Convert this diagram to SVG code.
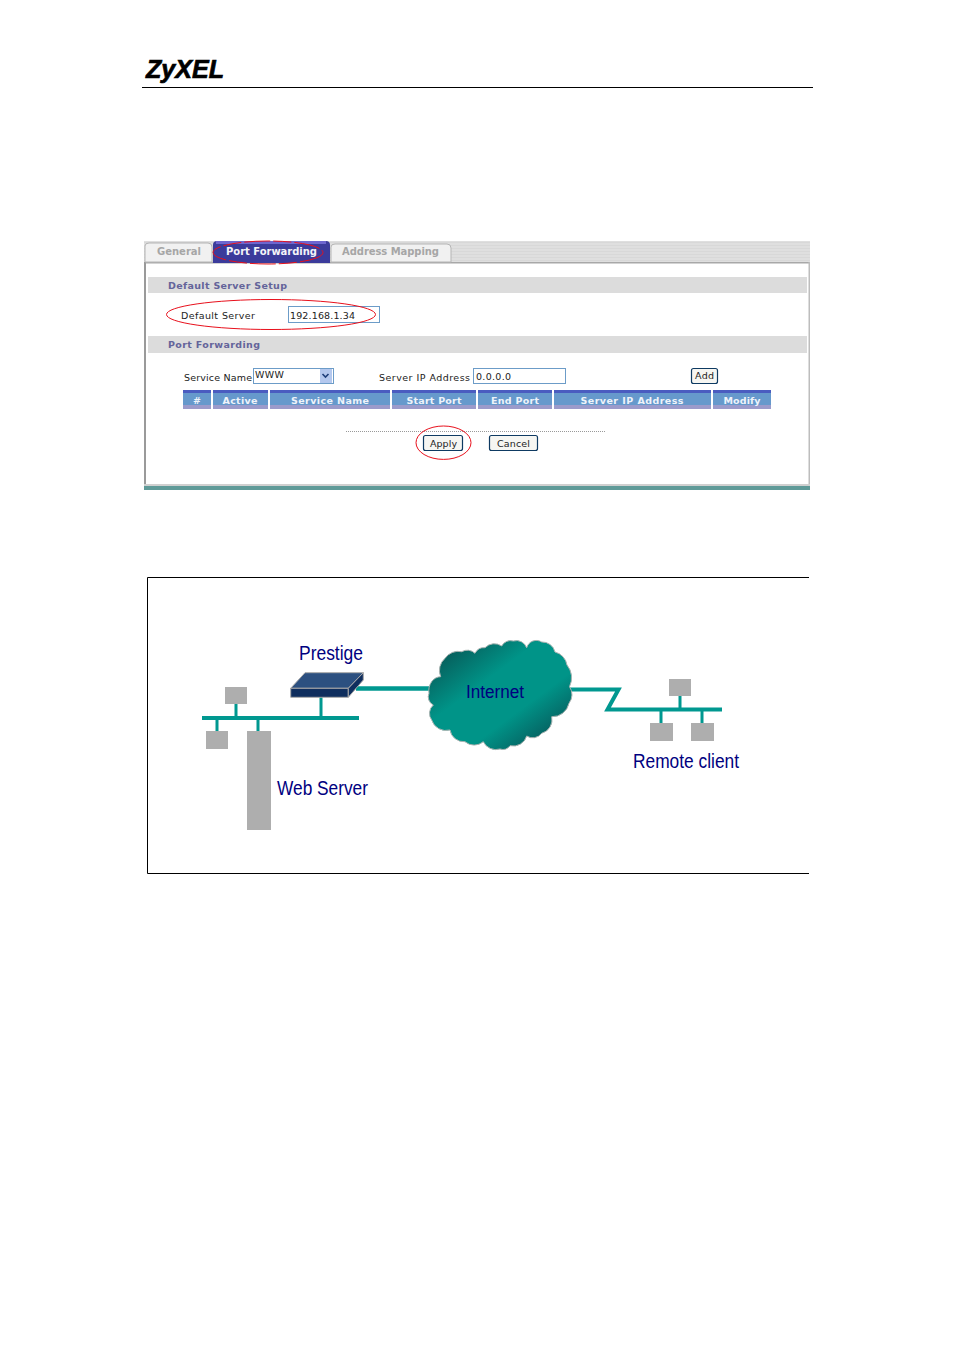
<svg xmlns="http://www.w3.org/2000/svg" width="954" height="1351" viewBox="0 0 954 1351">
<style>
text{font-family:"DejaVu Sans",sans-serif}
.ui{font-size:9.5px;fill:#222}
.sec{font-size:9.5px;font-weight:bold;fill:#64649a}
.th{font-size:9.5px;font-weight:bold;fill:#eef3fa;text-anchor:middle}
.tab{font-size:10px;font-weight:bold;fill:#a6a6a6}
.lab{font-family:"Liberation Sans",Arial,sans-serif;fill:#000080}
.sect{fill:#dcdcdc}
.inp{fill:#fff;stroke:#6c9cc8;stroke-width:1}
.btn{fill:#f6f6f2;stroke:#0e3a62;stroke-width:1.2}
.red{fill:none;stroke:#e8101c;stroke-width:1}
.net{fill:none;stroke:#009890;stroke-linejoin:miter}
.pc{fill:#aeaeae}
</style>
<defs>
<linearGradient id="cloud" x1="0.12" y1="0.08" x2="0.9" y2="0.88">
<stop offset="0" stop-color="#075a58"/><stop offset="0.36" stop-color="#009488"/><stop offset="0.68" stop-color="#009488"/><stop offset="1" stop-color="#07585a"/>
</linearGradient>
<pattern id="stripes" width="4" height="3" patternUnits="userSpaceOnUse"><rect width="4" height="3" fill="#dfdfdf"/><rect y="2" width="4" height="1" fill="#d8d8d8"/></pattern>
</defs>
<rect width="954" height="1351" fill="#fff"/>

<g id="header">
<text x="146" y="78" textLength="78" lengthAdjust="spacingAndGlyphs" style="font-family:'Liberation Sans',Arial,sans-serif;font-size:25px;font-weight:bold;font-style:italic;stroke:#000;stroke-width:.7">ZyXEL</text>
<line x1="142" y1="87.5" x2="813" y2="87.5" stroke="#000"/>
</g>

<g id="screenshot">
<rect x="144" y="241" width="666" height="22" fill="url(#stripes)"/>
<rect x="144.5" y="262" width="665" height="224" fill="#fff"/>
<rect x="144" y="262" width="666" height="1.5" fill="#a8a8a8"/>
<rect x="144" y="262" width="2" height="224" fill="#9a9a9a"/>
<rect x="808.5" y="262" width="1.5" height="224" fill="#bdbdbd"/>
<rect x="144" y="484" width="666" height="2" fill="#d0d0d0"/>
<rect x="144" y="486" width="666" height="4" fill="#5f9a98"/>

<g id="tab-general">
<path d="M145 262V246Q145 243 149 243H208Q212 243 212 247V262Z" fill="#f1f1f1" stroke="#b5b5b5"/>
<text class="tab" x="157" y="255" textLength="44">General</text>
</g>
<g id="tab-port-forwarding">
<path d="M213 263V245Q213 241 217 241H326Q330 241 330 245V263Z" fill="#3b3b9b"/>
<rect x="216" y="241" width="110" height="3" fill="#6d66cf"/>
<text x="226" y="255" textLength="91" style="font-size:10px;font-weight:bold;fill:#f4f4f8">Port Forwarding</text>
<ellipse class="red" cx="268" cy="252.5" rx="55" ry="11.5" stroke-dasharray="26 3 18 3"/>
</g>
<g id="tab-address-mapping">
<path d="M331 262V247Q331 244 335 244H447Q451 244 451 248V262Z" fill="#f1f1f1" stroke="#b5b5b5"/>
<text class="tab" x="342" y="255" textLength="97">Address Mapping</text>
</g>

<g id="section-default">
<rect class="sect" x="148" y="277" width="659" height="16"/>
<text class="sec" x="168" y="289" textLength="119">Default Server Setup</text>
<text class="ui" x="181" y="319" textLength="74">Default Server</text>
<rect class="inp" x="288.5" y="306.5" width="91" height="16"/>
<text class="ui" x="290" y="319" textLength="65">192.168.1.34</text>
<ellipse class="red" cx="271" cy="314.5" rx="104.5" ry="15"/>
</g>

<g id="section-forwarding">
<rect class="sect" x="148" y="336" width="659" height="17"/>
<text class="sec" x="168" y="348" textLength="92">Port Forwarding</text>
<text class="ui" x="184" y="381" textLength="68">Service Name</text>
<rect class="inp" x="253.5" y="368.5" width="80" height="15"/>
<text class="ui" x="255" y="378" textLength="29">WWW</text>
<rect x="320" y="369" width="12" height="14" fill="#b4c8ee"/>
<path d="M322.5 374l3 3 3-3" fill="none" stroke="#1f3f7a" stroke-width="1.6"/>
<text class="ui" x="379" y="381" textLength="91">Server IP Address</text>
<rect class="inp" x="473.5" y="368.5" width="92" height="15"/>
<text class="ui" x="476" y="380" textLength="35">0.0.0.0</text>
<rect class="btn" x="691.5" y="368.5" width="26" height="15" rx="2"/>
<text class="ui" x="695" y="379" textLength="19">Add</text>
</g>

<g id="table-header">
<g id="th1"><rect x="183" y="390" width="28" height="19" fill="#6699cc"/><rect x="183" y="390" width="28" height="3" fill="#4a5cc0"/><rect x="183" y="405" width="28" height="4" fill="#9b9bcb"/><text class="th" x="197" y="404">#</text></g>
<g id="th2"><rect x="213" y="390" width="55" height="19" fill="#6699cc"/><rect x="213" y="390" width="55" height="3" fill="#4a5cc0"/><rect x="213" y="405" width="55" height="4" fill="#9b9bcb"/><text class="th" x="240" y="404" textLength="35">Active</text></g>
<g id="th3"><rect x="270" y="390" width="120" height="19" fill="#6699cc"/><rect x="270" y="390" width="120" height="3" fill="#4a5cc0"/><rect x="270" y="405" width="120" height="4" fill="#9b9bcb"/><text class="th" x="330" y="404" textLength="78">Service Name</text></g>
<g id="th4"><rect x="392" y="390" width="84" height="19" fill="#6699cc"/><rect x="392" y="390" width="84" height="3" fill="#4a5cc0"/><rect x="392" y="405" width="84" height="4" fill="#9b9bcb"/><text class="th" x="434" y="404" textLength="55">Start Port</text></g>
<g id="th5"><rect x="478" y="390" width="74" height="19" fill="#6699cc"/><rect x="478" y="390" width="74" height="3" fill="#4a5cc0"/><rect x="478" y="405" width="74" height="4" fill="#9b9bcb"/><text class="th" x="515" y="404" textLength="48">End Port</text></g>
<g id="th6"><rect x="554" y="390" width="157" height="19" fill="#6699cc"/><rect x="554" y="390" width="157" height="3" fill="#4a5cc0"/><rect x="554" y="405" width="157" height="4" fill="#9b9bcb"/><text class="th" x="632" y="404" textLength="103">Server IP Address</text></g>
<g id="th7"><rect x="713" y="390" width="58" height="19" fill="#6699cc"/><rect x="713" y="390" width="58" height="3" fill="#4a5cc0"/><rect x="713" y="405" width="58" height="4" fill="#9b9bcb"/><text class="th" x="742" y="404" textLength="37">Modify</text></g>
</g>

<g id="actions">
<line x1="346" y1="431.5" x2="606" y2="431.5" stroke="#999" stroke-dasharray="1 1"/>
<rect class="btn" x="423.5" y="435.5" width="39" height="15" rx="2"/>
<text class="ui" x="430" y="447" textLength="27">Apply</text>
<rect class="btn" x="489.5" y="435.5" width="48" height="15" rx="2"/>
<text class="ui" x="497" y="447" textLength="33">Cancel</text>
<ellipse class="red" cx="443.5" cy="442.7" rx="27.5" ry="16.7"/>
</g>
</g>

<g id="frame" fill="none" stroke="#000" stroke-width="1">
<path d="M809 577.5H147.5V873.5H809"/>
</g>

<g id="connectors">
<path class="net" stroke-width="4" d="M202 718H359"/>
<path class="net" stroke-width="3" d="M236 704V716M217 720V731M258 720V731M321 697V716"/>
<path class="net" stroke-width="4.5" d="M356 688.5H432"/>
<path class="net" stroke-width="4" d="M568 689.5H618.5L607.5 709.5H722"/>
<path class="net" stroke-width="3" d="M680 696V708M661 711V723M702 711V723"/>
</g>

<g id="prestige">
<path d="M290.7 688.3L305 672.7H363.3L348.3 688.3Z" fill="#2c5080" stroke="#a8a8a8"/>
<path d="M290.7 688.3H348.3V697.3H290.7Z" fill="#0f2e5e" stroke="#a8a8a8"/>
<path d="M348.3 688.3L363.3 672.7V680L348.3 697.3Z" fill="#0f2e5e" stroke="#a8a8a8"/>
<text class="lab" x="299" y="660" font-size="20" textLength="64" lengthAdjust="spacingAndGlyphs">Prestige</text>
</g>

<g id="internet">
<path d="M429 693.3A12 14 0 0 1 440.7 676.7A16 16 0 0 1 445 658.3A16 16 0 0 1 461.7 651.7A11 11 0 0 1 475 653.3A10 10 0 0 1 485 647.7A13 13 0 0 1 501.7 646A10 10 0 0 1 513.3 641A11 11 0 0 1 526.7 647.7A10 10 0 0 1 541.7 642A13 13 0 0 1 555 652A16 16 0 0 1 567 665A20 20 0 0 1 569.5 686.7A14 14 0 0 1 569 703.3A17 17 0 0 1 551.7 716.7A14 14 0 0 1 541.7 733.3A11 11 0 0 1 526.7 736A14 14 0 0 1 510 745.7A9 9 0 0 1 500 749A14 14 0 0 1 483.3 741.7A14 14 0 0 1 465 741.7A14 14 0 0 1 450 730A15 15 0 0 1 431.7 720A11 11 0 0 1 433.3 705A9 9 0 0 1 429 693.3Z" fill="url(#cloud)" stroke="#a9b3b1" stroke-width="1"/>
<text class="lab" x="466" y="698" font-size="18" textLength="58" lengthAdjust="spacingAndGlyphs">Internet</text>
</g>

<g id="lan-pcs">
<rect class="pc" x="225" y="687" width="22" height="17"/>
<rect class="pc" x="206" y="731" width="22" height="18"/>
</g>

<g id="web-server">
<rect class="pc" x="247" y="731" width="24" height="99"/>
<text class="lab" x="277" y="795" font-size="20" textLength="91" lengthAdjust="spacingAndGlyphs">Web Server</text>
</g>

<g id="remote-client">
<rect class="pc" x="669" y="679" width="22" height="17"/>
<rect class="pc" x="650" y="723" width="23" height="18"/>
<rect class="pc" x="691" y="723" width="23" height="18"/>
<text class="lab" x="633" y="768" font-size="20" textLength="106" lengthAdjust="spacingAndGlyphs">Remote client</text>
</g>
</svg>
